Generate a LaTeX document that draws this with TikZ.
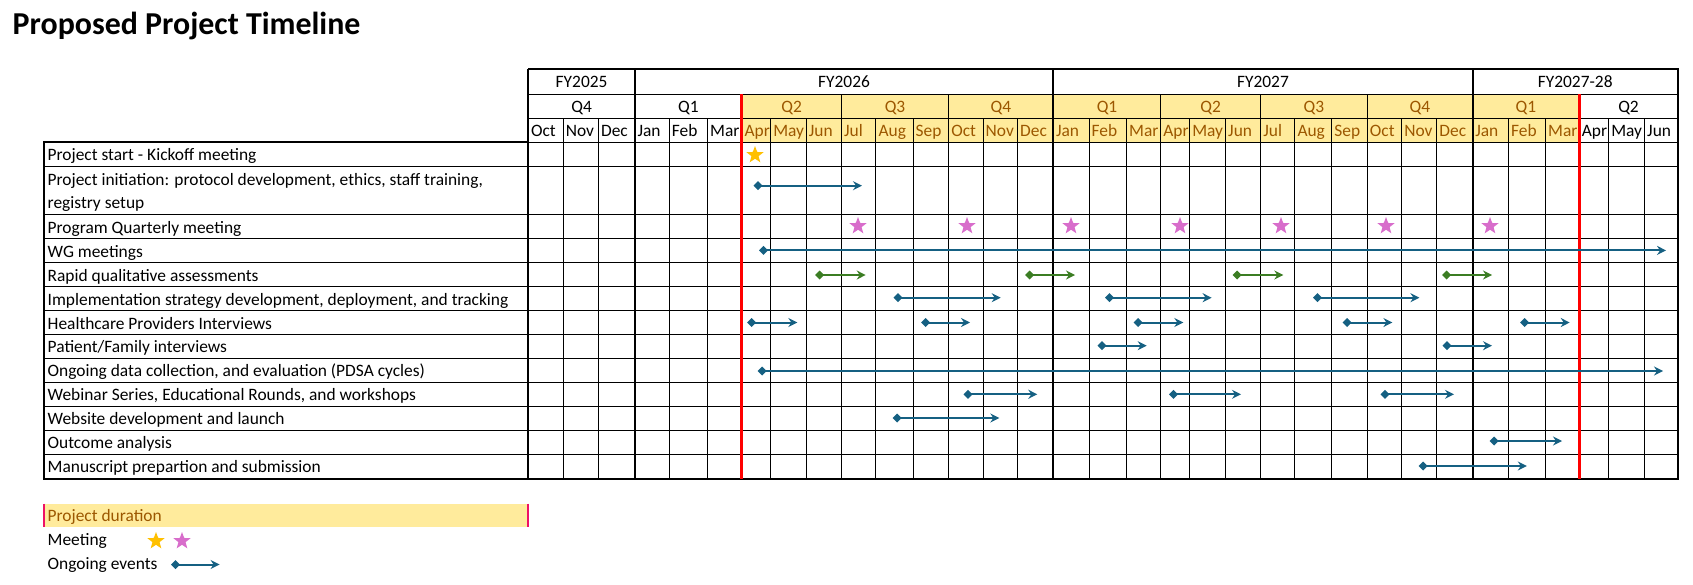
\documentclass[tikz,border=0pt]{standalone}
\usepackage{fontspec}
\setmainfont{Carlito}
\usetikzlibrary{arrows.meta,shapes.geometric}
\definecolor{evblue}{HTML}{156082}
\definecolor{evgreen}{HTML}{3B7D23}
\definecolor{starpink}{HTML}{D86DCB}
\definecolor{staror}{HTML}{FFC000}
\definecolor{neutfill}{HTML}{FFEB9C}
\definecolor{neuttext}{HTML}{9C5700}
\definecolor{durpink}{HTML}{EE1166}
\newcommand{\evarrow}[5]{%
  \coordinate (#1s) at (#2,#4);
  \coordinate (#1e) at (#3,#4);
  \draw[evline,#5] (#1s) -- (#1e);}
\begin{document}
\begin{tikzpicture}[x=1pt,y=-1pt,
  txt/.style={inner sep=0pt,anchor=base,font=\fontsize{17.4}{20}\selectfont},
  ltxt/.style={txt,anchor=base west},
  thinline/.style={line width=1pt,black},
  thickline/.style={line width=2pt,black},
  redline/.style={line width=3pt,red},
  evline/.style={line width=2pt,{Diamond[length=9pt,width=9pt]}-{Stealth[length=9pt,width=9pt,inset=3pt]}},
  mstar/.style={star,star points=5,star point ratio=2.4,minimum size=18pt,inner sep=0pt,draw=none}]
\useasboundingbox (0,0) rectangle (1693,584);
% title
\node[anchor=base west,inner sep=0pt,font=\fontsize{31.9}{36}\selectfont\bfseries] (title) at (12.5,34.3) {Proposed Project Timeline};
% yellow duration fill in header
\fill[neutfill] (741.9,94) rectangle (1579.2,142);
% month labels
\foreach \l/\r/\m/\c [count=\i] in {
 528.4/563.2/Oct/black,563.2/598.4/Nov/black,598.4/634.8/Dec/black,
 634.8/669.2/Jan/black,669.2/707.5/Feb/black,707.5/741.9/Mar/black,
 741.9/770.6/Apr/neuttext,770.6/806.2/May/neuttext,806.2/841.4/Jun/neuttext,
 841.4/875.9/Jul/neuttext,875.9/913.0/Aug/neuttext,913.0/948.6/Sep/neuttext,
 948.6/983.0/Oct/neuttext,983.0/1017.5/Nov/neuttext,1017.5/1053.3/Dec/neuttext,
 1053.3/1089.0/Jan/neuttext,1089.0/1126.5/Feb/neuttext,1126.5/1160.7/Mar/neuttext,
 1160.7/1189.6/Apr/neuttext,1189.6/1225.5/May/neuttext,1225.5/1260.6/Jun/neuttext,
 1260.6/1294.8/Jul/neuttext,1294.8/1331.7/Aug/neuttext,1331.7/1367.2/Sep/neuttext,
 1367.2/1401.6/Oct/neuttext,1401.6/1436.7/Nov/neuttext,1436.7/1472.6/Dec/neuttext,
 1472.6/1508.5/Jan/neuttext,1508.5/1545.4/Feb/neuttext,1545.4/1579.2/Mar/neuttext,
 1579.2/1608.6/Apr/black,1608.6/1644.5/May/black,1644.5/1677.8/Jun/black}{
  \node[ltxt,text=\c] (mo\i) at (\l+2.5,136) {\m};
  \draw[thinline] (\r,118) -- (\r,478.7);
}
% quarter labels
\foreach \l/\r/\q/\c [count=\i] in {
 528.4/634.8/Q4/black,634.8/741.9/Q1/black,741.9/841.4/Q2/neuttext,
 841.4/948.6/Q3/neuttext,948.6/1053.3/Q4/neuttext,1053.3/1160.7/Q1/neuttext,
 1160.7/1260.6/Q2/neuttext,1260.6/1367.2/Q3/neuttext,1367.2/1472.6/Q4/neuttext,
 1472.6/1579.2/Q1/neuttext,1579.2/1677.8/Q2/black}{
  \node[txt,text=\c] (qt\i) at ({(\l+\r)/2},112) {\q};
  \draw[thinline] (\r,94) -- (\r,478.7);
}
% fiscal years
\foreach \l/\r/\f [count=\i] in {528.4/634.8/FY2025,634.8/1053.3/FY2026,1053.3/1472.6/FY2027,1472.6/1677.8/FY2027-28}{
  \node[txt] (fy\i) at ({(\l+\r)/2},87) {\f};
}
% header horizontal lines
\draw[thinline] (528.4,94) -- (1677.8,94);
\draw[thinline] (528.4,118) -- (1677.8,118);
\draw[thinline] (528.4,142) -- (1677.8,142);
% body row lines and labels
\foreach \y in {166.3,214.7,238.7,262.7,286.7,310.7,334.5,358.4,382.3,406.3,430.3,454.3}{
  \draw[thinline] (43.5,\y) -- (1677.8,\y);
}
\foreach \b/\t [count=\i] in {
 160.6/{Project start - Kickoff meeting},
 185.7/{Project initiation: protocol development, ethics, staff training,},
 208.3/{registry setup},
 233/{Program Quarterly meeting},
 257/{WG meetings},
 281/{Rapid qualitative assessments},
 305/{Implementation strategy development, deployment, and tracking},
 329/{Healthcare Providers Interviews},
 352.8/{Patient/Family interviews},
 376.7/{Ongoing data collection, and evaluation (PDSA cycles)},
 400.6/{Webinar Series, Educational Rounds, and workshops},
 424.6/{Website development and launch},
 448.6/{Outcome analysis},
 472.8/{Manuscript prepartion and submission}}{
  \node[ltxt] (lb\i) at (47.5,\b) {\t};
}
% thick borders
\draw[thickline] (528.4,69) -- (1677.8,69) -- (1677.8,478.7) -- (43.5,478.7) -- (43.5,142) -- (528.4,142);
\draw[thickline] (528.4,69) -- (528.4,478.7);
\foreach \x in {634.8,1053.3,1472.6}{\draw[thickline] (\x,69) -- (\x,478.7);}
% red project duration lines
\draw[redline] (741.9,94) -- (741.9,478.7);
\draw[redline] (1579.2,94) -- (1579.2,478.7);
% meetings
\node[mstar,fill=staror] (kick) at (755,155) {};
\foreach \x [count=\i] in {858,967,1071,1180,1281,1386,1490}{
  \node[mstar,fill=starpink] (qm\i) at (\x,226) {};
}
% ongoing events
\evarrow{ini}{753.5}{862}{185.7}{evblue}
\evarrow{wg}{759}{1666}{250.4}{evblue}
\evarrow{ra}{815}{865.7}{275}{evgreen}
\evarrow{rb}{1025}{1075}{275}{evgreen}
\evarrow{rc}{1232.5}{1283.3}{275}{evgreen}
\evarrow{rd}{1442}{1492}{275}{evgreen}
\evarrow{ia}{893.5}{1000.7}{297.7}{evblue}
\evarrow{ib}{1105}{1211.6}{297.7}{evblue}
\evarrow{ic}{1313}{1419.4}{297.7}{evblue}
\evarrow{ha}{747}{797.3}{322.5}{evblue}
\evarrow{hb}{921}{970}{322.5}{evblue}
\evarrow{hc}{1133.5}{1183.3}{322.5}{evblue}
\evarrow{hd}{1342.5}{1392.4}{322.5}{evblue}
\evarrow{he}{1520}{1569.7}{322.5}{evblue}
\evarrow{pa}{1097.5}{1146.7}{345.7}{evblue}
\evarrow{pb}{1442.5}{1492}{345.7}{evblue}
\evarrow{og}{757.5}{1663}{371}{evblue}
\evarrow{wa}{963.5}{1037.3}{394.3}{evblue}
\evarrow{wb}{1169}{1241}{394.3}{evblue}
\evarrow{wc}{1380.5}{1454}{394.3}{evblue}
\evarrow{ws}{892.5}{999.3}{418}{evblue}
\evarrow{oa}{1489.5}{1562}{441}{evblue}
\evarrow{ms}{1418.5}{1526.8}{466}{evblue}
% legend
\fill[neutfill] (43,503.5) rectangle (529,527.3);
\draw[line width=2pt,durpink] (44,503.5) -- (44,527.3);
\draw[line width=2pt,durpink] (528,503.5) -- (528,527.3);
\node[ltxt,text=neuttext] (lgdur) at (47.5,521.5) {Project duration};
\node[ltxt] (lgmeet) at (47.5,545.5) {Meeting};
\node[mstar,fill=staror] (lgs1) at (156,541) {};
\node[mstar,fill=starpink] (lgs2) at (182,541) {};
\node[ltxt] (lgev) at (47.5,569.5) {Ongoing events};
\evarrow{lg}{171}{219.6}{564.5}{evblue}
\end{tikzpicture}
\end{document}
